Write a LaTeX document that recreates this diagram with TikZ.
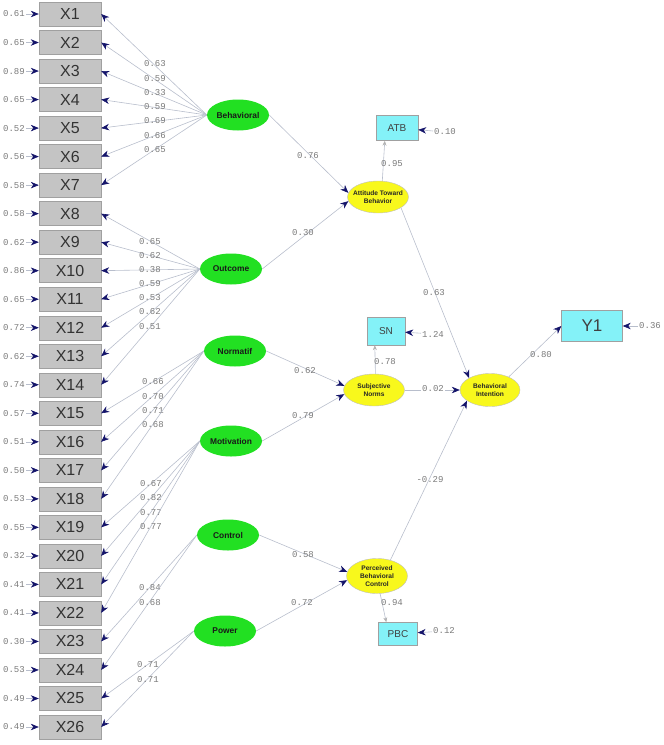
\documentclass[tikz,border=0pt]{standalone}
\usepackage{fontspec}
\setmainfont{Liberation Sans}
\newfontfamily\coeffont{Liberation Mono}
\usetikzlibrary{shapes.geometric,arrows.meta}

\definecolor{obsgray}{HTML}{C4C4C4}
\definecolor{boxedge}{HTML}{A0A0A0}
\definecolor{latgreen}{HTML}{22E022}
\definecolor{conyellow}{HTML}{F8F81C}
\definecolor{indcyan}{HTML}{84F2F8}
\definecolor{linkgray}{HTML}{B8BECC}
\definecolor{coefgray}{HTML}{7A7A7A}
\definecolor{tipnavy}{HTML}{14146A}

\tikzset{
  obsbox/.style={draw=boxedge, fill=obsgray, minimum width=62pt, minimum height=24pt,
    inner sep=0pt, font=\fontsize{16}{16}\selectfont, text=black!80},
  latent/.style={ellipse, fill=latgreen, minimum width=62pt, minimum height=31pt, inner sep=0pt},
  lattext/.style={font=\fontsize{8.4}{8.4}\selectfont\bfseries, text=black!90},
  construct/.style={ellipse, draw=gray!50, fill=conyellow, minimum width=61pt,
    minimum height=32pt, inner sep=0pt},
  context/.style={font=\fontsize{6.6}{8}\selectfont\bfseries, align=center, text=black!85},
  indbox/.style={draw=boxedge, fill=indcyan, inner sep=0pt, text=black!75},
  coef/.style={text=coefgray, font=\coeffont\fontsize{9}{9}\selectfont, inner sep=1pt},
  link/.style={draw=linkgray, line width=0.6pt, -{Stealth[length=8pt,width=6.5pt,inset=2.5pt,color=tipnavy]}},
  indlink/.style={draw=linkgray, line width=0.6pt, -{Stealth[length=5pt,width=4pt,color=gray!60]}}
}

\begin{document}
\begin{tikzpicture}[x=1pt,y=-1pt]
  \useasboundingbox (0,0) rectangle (664,745);

  % Define observed indicators with error variances
  \foreach \i/\err in {1/0.61, 2/0.65, 3/0.89, 4/0.65, 5/0.52, 6/0.56, 7/0.58,
      8/0.58, 9/0.62, 10/0.86, 11/0.65, 12/0.72, 13/0.62, 14/0.74,
      15/0.57, 16/0.51, 17/0.50, 18/0.53, 19/0.55, 20/0.32, 21/0.41,
      22/0.41, 23/0.30, 24/0.53, 25/0.49, 26/0.49} {
    \node[obsbox] (x\i) at (70,{14+(\i-1)*28.52}) {X\i};
    \node[coef, anchor=east] (e\i) at (26,{14+(\i-1)*28.52}) {\err};
    \draw[link] (e\i) -- (x\i);
  }

  % Define latent factors
  \foreach \name/\x/\y/\lname in {beh/238/115/Behavioral, out/231/269/Outcome,
      nor/235/351/Normatif, mot/231/441/Motivation, con/228/535/Control, pow/225/631/Power} {
    \node[latent, label={[lattext]center:\lname}] (\name) at (\x,\y) {};
  }

  % Draw loadings
  \foreach \lat/\i/\val/\lx/\ly in {beh/1/0.63/155/64, beh/2/0.59/155/79, beh/3/0.33/155/93,
      beh/4/0.59/155/107, beh/5/0.69/155/121, beh/6/0.66/155/136, beh/7/0.65/155/150,
      out/8/0.65/150/242, out/9/0.62/150/256, out/10/0.38/150/270, out/11/0.59/150/284,
      out/12/0.53/150/298, out/13/0.62/150/312, out/14/0.51/150/327,
      nor/15/0.66/153/382, nor/16/0.70/153/397, nor/17/0.71/153/411, nor/18/0.68/153/425,
      mot/19/0.67/151/484, mot/20/0.82/151/498, mot/21/0.77/151/513, mot/22/0.77/151/527,
      con/23/0.84/150/588, con/24/0.68/150/603,
      pow/25/0.71/148/665, pow/26/0.71/148/680} {
    \draw[link] (\lat.west) -- (x\i.east);
    \node[coef] at (\lx,\ly) {\val};
  }

  % Define constructs
  \node[construct, label={[context]center:Attitude Toward\\Behavior}] (atb) at (378,197) {};
  \node[construct, label={[context]center:Subjective\\Norms}] (sn) at (374,390) {};
  \node[construct, minimum height=35pt, label={[context]center:Perceived\\Behavioral\\Control}] (pbc) at (377,576) {};
  \node[construct, minimum width=60pt, minimum height=33pt, label={[context]center:Behavioral\\Intention}] (bi) at (490,390) {};

  % Define construct indicators
  \node[indbox, minimum width=42pt, minimum height=25pt, font=\fontsize{10}{10}\selectfont] (atbbox) at (397,128) {ATB};
  \node[indbox, minimum width=38pt, minimum height=28pt, font=\fontsize{10}{10}\selectfont] (snbox) at (386,331) {SN};
  \node[indbox, minimum width=39pt, minimum height=23pt, font=\fontsize{10}{10}\selectfont] (pbcbox) at (398,634) {PBC};
  \node[indbox, minimum width=61pt, minimum height=31pt, font=\fontsize{17}{17}\selectfont] (y1) at (592,326) {Y1};

  % Error variances of construct indicators
  \node[coef, anchor=west] (eatb) at (433,132) {0.10};
  \node[coef, anchor=west] (esn) at (421,334) {1.24};
  \node[coef, anchor=west] (epbc) at (432,631) {0.12};
  \node[coef, anchor=west] (ey1) at (638,326) {0.36};
  \draw[link] (eatb) -- (atbbox);
  \draw[link] (esn) -- (snbox);
  \draw[link] (epbc) -- (pbcbox);
  \draw[link] (ey1) -- (y1);

  % Construct to indicator
  \draw[indlink] (atb.75) -- ([xshift=9pt]atbbox.south west);
  \node[coef] at (392,164) {0.95};
  \draw[indlink] (sn.85) -- ([xshift=8pt]snbox.south west);
  \node[coef] at (385,362) {0.78};
  \draw[indlink] (pbc.-80) -- ([xshift=8pt]pbcbox.north west);
  \node[coef] at (392,603) {0.94};

  % Structural paths
  \draw[link] (beh.east) -- (atb.172);
  \node[coef] at (308,156) {0.76};
  \draw[link] (out.east) -- (atb.188);
  \node[coef] at (303,233) {0.30};
  \draw[link] (nor.east) -- (sn.172);
  \node[coef] at (305,371) {0.62};
  \draw[link] (mot.east) -- (sn.188);
  \node[coef] at (303,416) {0.79};
  \draw[link] (con.east) -- (pbc.172);
  \node[coef] at (303,555) {0.58};
  \draw[link] (pow.east) -- (pbc.188);
  \node[coef] at (302,603) {0.72};
  \draw[link] (atb.-25) -- (bi.150);
  \node[coef] at (434,293) {0.63};
  \draw[link] (sn.east) -- (bi.west);
  \node[coef, fill=white] at (433,389) {0.02};
  \draw[link] (pbc.50) -- (bi.205);
  \node[coef] at (430,480) {-0.29};
  \draw[link] (bi.35) -- (y1.west);
  \node[coef] at (541,355) {0.80};
\end{tikzpicture}
\end{document}
